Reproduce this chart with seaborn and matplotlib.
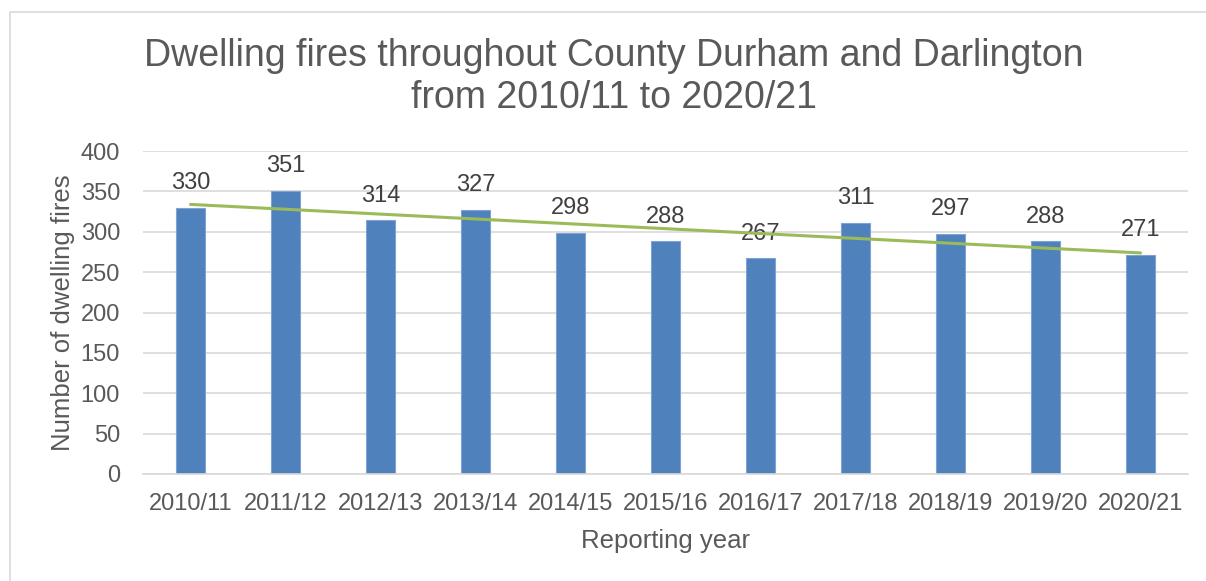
import numpy as np
import pandas as pd
import matplotlib
matplotlib.use("Agg")
import matplotlib.pyplot as plt
import seaborn as sns

# Dados
anos = ["2010/11", "2011/12", "2012/13", "2013/14", "2014/15", "2015/16",
        "2016/17", "2017/18", "2018/19", "2019/20", "2020/21"]
incendios = [330, 351, 314, 327, 298, 288, 267, 311, 297, 288, 271]

df = pd.DataFrame({"Ano": anos, "Incendios": incendios})
df["pos"] = np.arange(len(anos))

sns.set_style("white")
plt.rcParams["font.family"] = ["Liberation Sans", "DejaVu Sans"]
cinza = "#595959"

fig = plt.figure(figsize=(12.06, 5.81), dpi=100)
ax = fig.add_axes([143 / 1206, 1 - 474 / 581, 1045 / 1206, 323 / 581])

# Barras
sns.barplot(data=df, x="Ano", y="Incendios", color="#4F81BD", width=0.31,
            saturation=1, edgecolor="#7FA3D3", linewidth=0.8, ax=ax, zorder=2)

# Rótulos de dados
for i, v in enumerate(incendios):
    ax.annotate(str(v), (i, v), xytext=(0, 10), textcoords="offset points",
                ha="center", va="bottom", fontsize=17, color="#404040", zorder=3)

# Linha de tendência linear
sns.regplot(data=df, x="pos", y="Incendios", scatter=False, ci=None, truncate=True,
            line_kws={"color": "#9BBB59", "linewidth": 2.2, "zorder": 4}, ax=ax)

ax.set_xlim(-0.5, len(anos) - 0.5)
ax.set_ylim(0, 400)
ax.set_yticks(range(0, 401, 50))
ax.set_xticks(range(len(anos)))
ax.set_xticklabels(anos)
ax.yaxis.grid(True, color="#D9D9D9", linewidth=1.2, zorder=0)
ax.set_axisbelow(True)
for s in ["top", "right", "left"]:
    ax.spines[s].set_visible(False)
ax.spines["bottom"].set_color("#D9D9D9")
ax.spines["bottom"].set_linewidth(1.2)
ax.tick_params(axis="x", length=0, labelsize=17, labelcolor=cinza, pad=14)
ax.tick_params(axis="y", length=0, labelsize=17, labelcolor=cinza, pad=16.5)

ax.set_xlabel("Reporting year", fontsize=18.5, color=cinza, labelpad=10)
ax.set_ylabel("Number of dwelling fires", fontsize=18.5, color=cinza, labelpad=4)

fig.text(614 / 1206, 1 - 77 / 581,
         "Dwelling fires throughout County Durham and Darlington\nfrom 2010/11 to 2020/21",
         ha="center", va="center", fontsize=27, color=cinza, linespacing=1.22)

# Moldura do gráfico
moldura = plt.Rectangle((10 / 1206, -0.05), 1.1, 1 - 12 / 581 + 0.05, transform=fig.transFigure,
                        fill=False, edgecolor="#D9D9D9", linewidth=1.2)
fig.patches.append(moldura)

fig.savefig("out.png", dpi=100)
